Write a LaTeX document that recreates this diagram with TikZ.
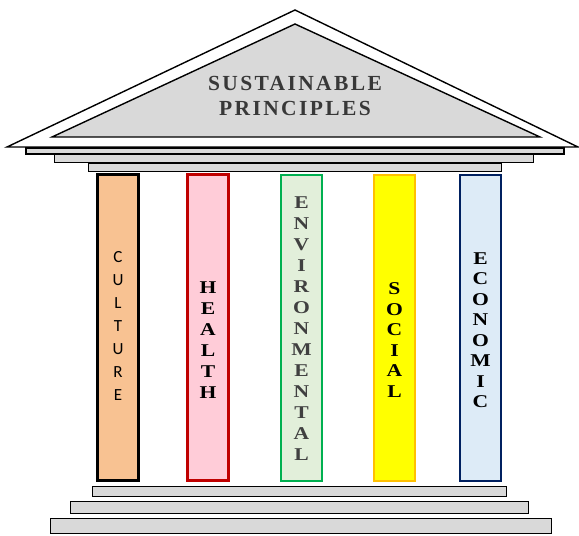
\documentclass[tikz,border=0pt]{standalone}
\usepackage{fontspec}
\setmainfont{Liberation Serif}
\newfontfamily\calfont{Carlito}
\newfontfamily\roofont[LetterSpace=11]{Liberation Serif}
\newfontfamily\pilfont[FakeStretch=1.2]{Liberation Serif}
\usetikzlibrary{positioning}
\definecolor{roofc}{RGB}{217,217,217}
\definecolor{cultc}{RGB}{248,194,146}
\definecolor{hlthc}{RGB}{255,204,216}
\definecolor{hlthd}{RGB}{192,0,0}
\definecolor{envc}{RGB}{226,239,218}
\definecolor{envd}{RGB}{0,176,80}
\definecolor{socc}{RGB}{255,255,0}
\definecolor{socd}{RGB}{255,192,0}
\definecolor{ecoc}{RGB}{221,235,247}
\definecolor{ecod}{RGB}{0,32,96}
\tikzset{col/.style={draw,line width=2.5pt,minimum width=41pt,minimum height=306pt,inner sep=0pt},
 bar/.style={draw=black,fill=roofc,line width=1.9pt,inner sep=0pt},
 ltr/.style={align=center,inner sep=0pt,font=\pilfont\bfseries\fontsize{18}{21}\selectfont},
 roof/.style={draw,line width=1.4pt,line join=miter}}

\begin{document}
\begin{tikzpicture}[x=1pt,y=-1pt]
\useasboundingbox (0,0) rectangle (579,536);
% roof
\draw[roof,fill=white] (7,147)--(295,10)--(578,147)--cycle;
\draw[roof,fill=roofc] (52,137)--(295,24)--(540,137)--cycle;
\node[align=center,text=black!78,font=\roofont\bfseries\fontsize{21.5}{25}\selectfont] (title) at (295,96) {SUSTAINABLE\\PRINCIPLES};
% beams
\node[bar,minimum width=538pt,minimum height=6pt] (b1) at (295,151) {};
\node[bar,minimum width=479pt,minimum height=8pt] (b2) at (294,158.5) {};
\node[bar,minimum width=413pt,minimum height=8pt] (b3) at (295,167.5) {};
% pillars
\node[col,fill=cultc,draw=black] (cult) at (118,327.5) {};
\node[col,fill=hlthc,draw=hlthd] (hlth) at (208,327.5) {};
\node[col,fill=envc,draw=envd,line width=2pt] (env) at (301.5,327.5) {};
\node[col,fill=socc,draw=socd,line width=2pt] (soc) at (394.5,327.5) {};
\node[col,fill=ecoc,draw=ecod,line width=2pt] (eco) at (480.5,327.5) {};
\node[ltr,font=\calfont\fontsize{17}{23}\selectfont] (tcult) at (118,326) {C\\U\\L\\T\\U\\R\\E};
\node[ltr] (thlth) at (208,340) {H\\E\\A\\L\\T\\H};
\node[ltr,text=black!75] (tenv) at (301.5,329) {E\\N\\V\\I\\R\\O\\N\\M\\E\\N\\T\\A\\L};
\node[ltr,font=\pilfont\bfseries\fontsize{18}{20.6}\selectfont] (tsoc) at (394.5,340) {S\\O\\C\\I\\A\\L};
\node[ltr,font=\pilfont\bfseries\fontsize{18}{20.5}\selectfont] (teco) at (480.5,330) {E\\C\\O\\N\\O\\M\\I\\C};
% steps
\node[bar,minimum width=414pt,minimum height=10pt] (s1) at (299.5,491.5) {};
\node[bar,minimum width=458pt,minimum height=12pt] (s2) at (299.5,507.5) {};
\node[bar,minimum width=501pt,minimum height=15pt] (s3) at (301,526) {};
\end{tikzpicture}
\end{document}
